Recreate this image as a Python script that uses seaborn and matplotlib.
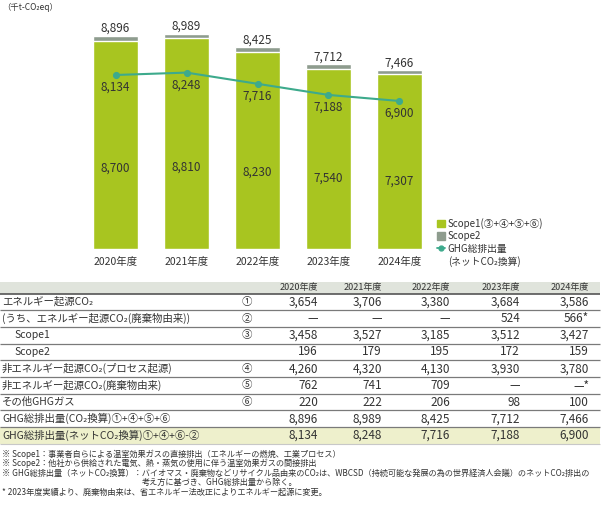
import numpy as np
import pandas as pd
import matplotlib.pyplot as plt
from matplotlib.patches import Patch, Rectangle
from matplotlib.lines import Line2D
import seaborn as sns

# --- スタイルとフォント ---
sns.set_theme(style="white")
plt.rcParams['font.family'] = ['Noto Sans CJK JP', 'DejaVu Sans']
plt.rcParams['axes.unicode_minus'] = False

# --- グラフ用データ ---
years = ['2020年度', '2021年度', '2022年度', '2023年度', '2024年度']
scope1 = [8700, 8810, 8230, 7540, 7307]
scope2 = [196, 179, 195, 172, 159]
net_total = [8134, 8248, 7716, 7188, 6900]

# --- 表用データ (None は「—」) ---
energy_co2 = [3654, 3706, 3380, 3684, 3586]
energy_waste = [None, None, None, 524, 566]
energy_scope1 = [3458, 3527, 3185, 3512, 3427]
energy_scope2 = [196, 179, 195, 172, 159]
process_co2 = [4260, 4320, 4130, 3930, 3780]
nonenergy_waste = [762, 741, 709, None, None]
other_ghg = [220, 222, 206, 98, 100]
ghg_total = [8896, 8989, 8425, 7712, 7466]
ghg_net = [8134, 8248, 7716, 7188, 6900]

row_labels = [
    'エネルギー起源CO₂',
    '(うち、エネルギー起源CO₂(廃棄物由来))',
    'Scope1',
    'Scope2',
    '非エネルギー起源CO₂(プロセス起源)',
    '非エネルギー起源CO₂(廃棄物由来)',
    'その他GHGガス',
    'GHG総排出量(CO₂換算)①+④+⑤+⑥',
    'GHG総排出量(ネットCO₂換算)①+④+⑥-②',
]
row_indent = [0, 0, 1, 1, 0, 0, 0, 0, 0]
row_marks = ['①', '②', '③', '', '④', '⑤', '⑥', '', '']
row_values = [energy_co2, energy_waste, energy_scope1, energy_scope2,
              process_co2, nonenergy_waste, other_ghg, ghg_total, ghg_net]
starred = [(1, 4), (5, 4)]  # 2024年度の注記付きセル

footnotes = [
    '※ Scope1：事業者自らによる温室効果ガスの直接排出（エネルギーの燃焼、工業プロセス）',
    '※ Scope2：他社から供給された電気、熱・蒸気の使用に伴う温室効果ガスの間接排出',
    '※ GHG総排出量（ネットCO₂換算）：バイオマス・廃棄物などリサイクル品由来のCO₂は、WBCSD（持続可能な発展の為の世界経済人会議）のネットCO₂排出の',
    '考え方に基づき、GHG総排出量から除く。',
    '* 2023年度実績より、廃棄物由来は、省エネルギー法改正によりエネルギー起源に変更。',
]

GREEN = '#a8c520'
GREY = '#8e9c8e'
TEAL = '#3daa8c'
TXT = '#333333'

df = pd.DataFrame({'year': years, 'scope1': scope1, 'scope2': scope2, 'net': net_total})
df['total'] = df['scope1'] + df['scope2']

W, H = 608, 508
fig = plt.figure(figsize=(W / 100, H / 100), dpi=100)

# 表・注記用の背景軸 (ピクセル座標)
tab = fig.add_axes([0, 0, 1, 1])
tab.set_xlim(0, W)
tab.set_ylim(H, 0)
tab.axis('off')

# --- 棒グラフ ---
ax = fig.add_axes([80 / W, (H - 249) / H, 355 / W, 229.8 / H])
sns.barplot(data=df, x='year', y='total', color=GREY, saturation=1, width=0.634, ax=ax)
sns.barplot(data=df, x='year', y='scope1', color=GREEN, saturation=1, width=0.634, ax=ax)
ax.set_ylim(0, 9600)
ax.set_xlim(-0.5, 4.5)
ax.set_xlabel('')
ax.set_ylabel('')
ax.set_yticks([])
for s in ax.spines.values():
    s.set_visible(False)
ax.tick_params(axis='x', length=0, pad=6, labelsize=7.5, labelcolor=TXT)
ax.patch.set_alpha(0)

for i, row in df.iterrows():
    ax.annotate(f"{row['total']:,}", (i, row['total']), xytext=(0, 5.5), textcoords='offset points',
                ha='center', va='center', fontsize=8.5, color=TXT)
    ax.text(i, row['scope1'] * 0.39, f"{row['scope1']:,}", ha='center', va='center',
            fontsize=8.5, color=TXT)

# ネットCO2換算の折れ線 (別スケール)
ax2 = ax.twinx()
sns.pointplot(data=df, x='year', y='net', color=TEAL, markers='o', markersize=4,
              linewidth=1.5, ax=ax2)
ax2.set_ylim(-124, 10782)
ax2.set_xlim(-0.5, 4.5)
ax2.set_axis_off()
for i, v in enumerate(df['net']):
    ax2.annotate(f"{v:,}", (i, v), xytext=(0, -9), textcoords='offset points',
                 ha='center', va='center', fontsize=8.5, color=TXT)

# 凡例 (4行目は3行目ラベルの続き)
handles = [Patch(color=GREEN), Patch(color=GREY),
           Line2D([0], [0], color=TEAL, marker='o', markersize=3.5, lw=1.3),
           Patch(alpha=0)]
labels = ['Scope1(③+④+⑤+⑥)', 'Scope2', 'GHG総排出量', '(ネットCO₂換算)']
fig.legend(handles, labels, loc='upper left', bbox_to_anchor=(437 / W, 1 - 218 / H),
           frameon=False, fontsize=7, handlelength=0.8, handleheight=0.8,
           handletextpad=0.3, labelspacing=0.25, borderpad=0, borderaxespad=0,
           labelcolor=TXT)

tab.text(2, 7, '（千t-CO₂eq）', fontsize=6, color=TXT, va='center', ha='left')

# --- 表 ---
row_h = 16.7
top = 293.5
tab.add_patch(Rectangle((0, 282), 600, top - 282, color='#e0e4dc', lw=0))
tab.add_patch(Rectangle((0, top + 8 * row_h), 600, row_h, color='#eef0cc', lw=0))
col_right = [318, 382, 450, 520, 589]
for x, y in zip(col_right, years):
    tab.text(x, 287.5, y, ha='right', va='center', fontsize=6.5, color=TXT)

for r, (lab, ind, mark, vals) in enumerate(zip(row_labels, row_indent, row_marks, row_values)):
    yc = top + (r + 0.5) * row_h
    tab.text(2 + 12 * ind, yc, lab, ha='left', va='center', fontsize=7.5, color=TXT)
    if mark:
        tab.text(247, yc, mark, ha='center', va='center', fontsize=7.5, color=TXT)
    for c, v in enumerate(vals):
        s = '—' if v is None else f'{v:,}'
        if (r, c) in starred:
            s += '*'
        tab.text(col_right[c], yc, s, ha='right', va='center', fontsize=8.5, color=TXT)

tab.hlines(top, 0, 600, color='#555555', lw=1.2)
tab.hlines([top + k * row_h for k in range(1, 9)], 0, 600, color='#7a7a7a', lw=0.9)
tab.hlines(top + 9 * row_h, 0, 600, color='#c8c8c8', lw=0.8)

# --- 注記 ---
note_y = [454, 463.5, 473, 482.5, 492]
note_x = [2, 2, 2, 142, 2]
for x, y, t in zip(note_x, note_y, footnotes):
    tab.text(x, y, t, ha='left', va='center', fontsize=5.9, color=TXT)

fig.savefig('out.png', dpi=100)
